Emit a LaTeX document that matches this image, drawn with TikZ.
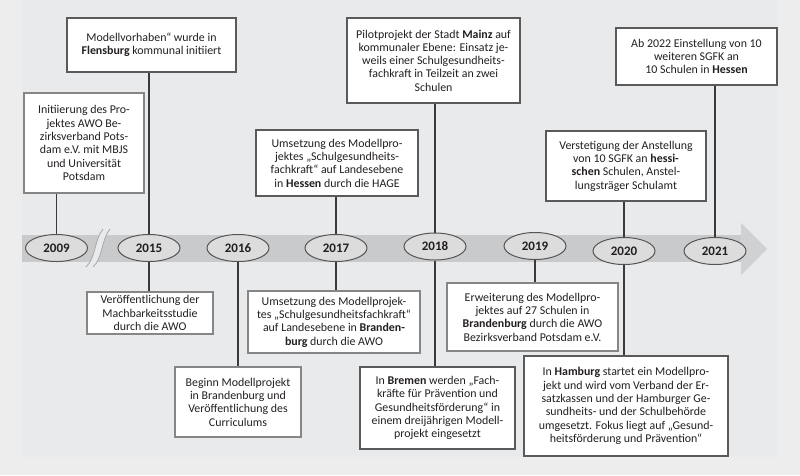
\documentclass[tikz,border=0pt]{standalone}
\usepackage{fontspec}
\setmainfont{Carlito}
\usetikzlibrary{shapes.geometric}
\definecolor{outerbg}{HTML}{EDEDED}
\definecolor{panelbg}{HTML}{E9EAEC}
\definecolor{bandc}{HTML}{C9CACC}
\definecolor{headc}{HTML}{D0D1D3}
\definecolor{ellfill}{HTML}{DCDCDD}
\definecolor{ellc}{HTML}{555555}
\definecolor{textc}{HTML}{231F20}
\definecolor{thinc}{HTML}{5A5A5A}
\definecolor{thickc}{HTML}{868686}
\definecolor{connc}{HTML}{3A3A3A}
\definecolor{breakc}{HTML}{A8A8A8}
\begin{document}
\begin{tikzpicture}[x=1pt,y=-1pt,
  txt/.style={font=\fontsize{11.9}{13.3}\selectfont, align=center, text=textc},
  boxthin/.style={txt, draw=thinc, line width=1.2pt, fill=white, inner sep=0pt},
  boxthick/.style={txt, draw=thickc, line width=2.4pt, fill=white, inner sep=0pt},
  year/.style={ellipse, draw=ellc, line width=1pt, fill=ellfill, minimum width=62pt, minimum height=27pt, inner sep=0pt, text=textc, font=\fontsize{13}{14}\selectfont\bfseries},
  conn/.style={draw=connc, line width=1.4pt}]
\useasboundingbox (0,0) rectangle (800,475);
\fill[outerbg] (0,0) rectangle (800,475);
\fill[panelbg] (22,0) rectangle (777,457);
% timeline band
\fill[bandc] (22,235) rectangle (742,262);
\fill[headc] (741,223) -- (767,249) -- (741,275) -- cycle;
% break mark
\fill[panelbg] (86,267) .. controls (96,258) and (94,240) .. (103,229) -- (110,229) .. controls (101,240) and (103,258) .. (93,267) -- cycle;
\draw[breakc, line width=0.8pt] (86,267) .. controls (96,258) and (94,240) .. (103,229);
\draw[breakc, line width=0.8pt] (93,267) .. controls (103,258) and (101,240) .. (110,229);
% years
\node[year] (e2009) at (56.5,248) {2009};
\node[year] (e2015) at (149,248) {2015};
\node[year] (e2016) at (238,248) {2016};
\node[year] (e2017) at (336,248) {2017};
\node[year] (e2018) at (435,246.5) {2018};
\node[year] (e2019) at (535,246) {2019};
\node[year] (e2020) at (624,251) {2020};
\node[year] (e2021) at (715,251) {2021};
% upper boxes
\node[boxthick, minimum width=120pt, minimum height=100pt] (A) at (84,143)
  {Initiierung des Pro-\\jektes AWO Be-\\zirksverband Pots-\\dam e.V. mit MBJS\\und Universität\\Potsdam};
\node[boxthin, minimum width=169pt, minimum height=54pt] (B) at (151.5,45)
  {Modellvorhaben“ wurde in\\\textbf{Flensburg} kommunal initiiert};
\node[boxthin, minimum width=162pt, minimum height=66pt] (C) at (337,163)
  {Umsetzung des Modellpro-\\jektes „Schulgesundheits-\\fachkraft“ auf Landesebene\\in \textbf{Hessen} durch die HAGE};
\node[boxthin, minimum width=173pt, minimum height=85pt] (D) at (433.5,60.5)
  {Pilotprojekt der Stadt \textbf{Mainz} auf\\kommunaler Ebene: Einsatz je-\\weils einer Schulgesundheits-\\fachkraft in Teilzeit an zwei\\Schulen};
\node[boxthin, minimum width=160pt, minimum height=70pt] (E) at (626,166)
  {Verstetigung der Anstellung\\von 10 SGFK an \textbf{hessi-}\\\textbf{schen} Schulen, Anstel-\\lungsträger Schulamt};
\node[boxthin, minimum width=161pt, minimum height=57pt] (F) at (696.5,56.5)
  {Ab 2022 Einstellung von 10\\weiteren SGFK an\\10 Schulen in \textbf{Hessen}};
% lower boxes
\node[boxthick, minimum width=126pt, minimum height=42pt] (G) at (150,313)
  {Veröffentlichung der\\Machbarkeitsstudie\\durch die AWO};
\node[boxthick, minimum width=172pt, minimum height=62pt] (H) at (334,322)
  {Umsetzung des Modellprojek-\\tes „Schulgesundheitsfachkraft“\\auf Landesebene in \textbf{Branden-}\\\textbf{burg} durch die AWO};
\node[boxthick, minimum width=126pt, minimum height=70pt] (I) at (238,402)
  {Beginn Modellprojekt\\in Brandenburg und\\Veröffentlichung des\\Curriculums};
\node[boxthick, minimum width=171pt, minimum height=68pt] (J) at (532.5,317)
  {Erweiterung des Modellpro-\\jektes auf 27 Schulen in\\\textbf{Brandenburg} durch die AWO\\Bezirksverband Potsdam e.V.};
\node[boxthin, minimum width=155pt, minimum height=82pt] (K) at (437.5,408)
  {In \textbf{Bremen} werden „Fach-\\kräfte für Prävention und\\Gesundheitsförderung“ in\\einem dreijährigen Modell-\\projekt eingesetzt};
\node[boxthin, minimum width=204pt, minimum height=100pt] (L) at (626,406)
  {In \textbf{Hamburg} startet ein Modellpro-\\jekt und wird vom Verband der Er-\\satzkassen und der Hamburger Ge-\\sundheits- und der Schulbehörde\\umgesetzt. Fokus liegt auf „Gesund-\\heitsförderung und Prävention“};
% connectors
\draw[conn] (e2009.north) -- (e2009.north |- A.south);
\draw[conn] (e2015.north) -- (e2015.north |- B.south);
\draw[conn] (e2017.north) -- (e2017.north |- C.south);
\draw[conn] (e2018.north) -- (e2018.north |- D.south);
\draw[conn] (e2020.north) -- (e2020.north |- E.south);
\draw[conn] (e2021.north) -- (e2021.north |- F.south);
\draw[conn] (e2015.south) -- (e2015.south |- G.north);
\draw[conn] (e2017.south) -- (e2017.south |- H.north);
\draw[conn] (e2016.south) -- (e2016.south |- I.north);
\draw[conn] (e2019.south) -- (e2019.south |- J.north);
\draw[conn] (e2018.south) -- (e2018.south |- K.north);
\draw[conn] (e2020.south) -- (e2020.south |- L.north);
\end{tikzpicture}
\end{document}
